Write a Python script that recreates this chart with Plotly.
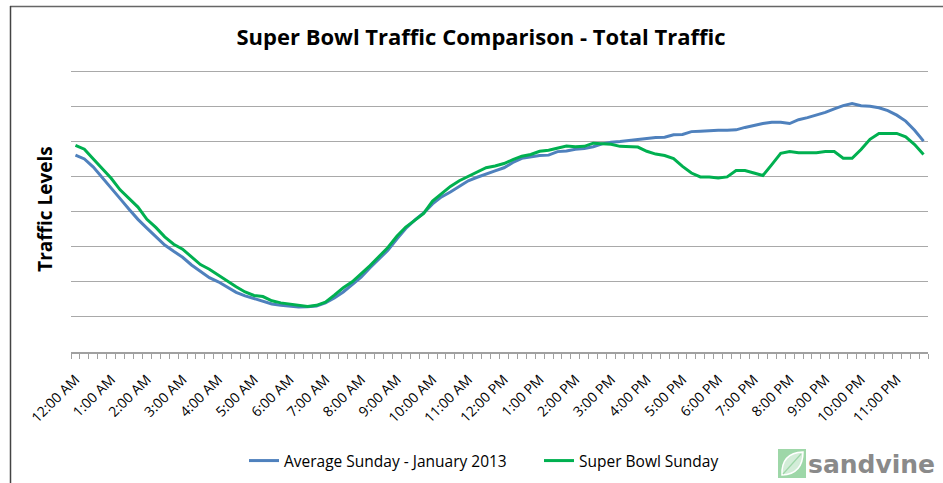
import plotly.graph_objects as go

# 15-minute slots across the day (96 slots), labels on every hour
hour_labels = ["12:00 AM", "1:00 AM", "2:00 AM", "3:00 AM", "4:00 AM", "5:00 AM",
               "6:00 AM", "7:00 AM", "8:00 AM", "9:00 AM", "10:00 AM", "11:00 AM",
               "12:00 PM", "1:00 PM", "2:00 PM", "3:00 PM", "4:00 PM", "5:00 PM",
               "6:00 PM", "7:00 PM", "8:00 PM", "9:00 PM", "10:00 PM", "11:00 PM"]

avg_sunday = [5.61, 5.50, 5.27, 4.96, 4.67, 4.37, 4.07, 3.78, 3.53, 3.28, 3.05, 2.87,
              2.70, 2.48, 2.30, 2.12, 2.00, 1.84, 1.70, 1.60, 1.52, 1.44, 1.37, 1.33,
              1.30, 1.28, 1.29, 1.31, 1.40, 1.54, 1.71, 1.93, 2.13, 2.40, 2.66, 2.90,
              3.22, 3.52, 3.76, 3.96, 4.22, 4.42, 4.56, 4.73, 4.88, 4.98, 5.06, 5.16,
              5.25, 5.40, 5.52, 5.57, 5.60, 5.61, 5.71, 5.73, 5.78, 5.80, 5.85, 5.93,
              5.98, 6.00, 6.03, 6.07, 6.10, 6.11, 6.12, 6.19, 6.20, 6.28, 6.29, 6.31,
              6.32, 6.32, 6.33, 6.40, 6.46, 6.51, 6.55, 6.55, 6.51, 6.62, 6.68, 6.75,
              6.83, 6.93, 7.02, 7.08, 7.02, 7.00, 6.96, 6.88, 6.75, 6.58, 6.32, 6.01]

super_bowl = [5.89, 5.78, 5.50, 5.23, 4.95, 4.62, 4.38, 4.13, 3.78, 3.55, 3.28, 3.07,
              2.93, 2.71, 2.49, 2.36, 2.19, 2.04, 1.86, 1.71, 1.61, 1.58, 1.46, 1.40,
              1.36, 1.32, 1.30, 1.33, 1.42, 1.62, 1.83, 2.00, 2.23, 2.46, 2.72, 2.98,
              3.30, 3.56, 3.75, 3.95, 4.30, 4.50, 4.72, 4.88, 5.01, 5.13, 5.25, 5.30,
              5.37, 5.48, 5.58, 5.63, 5.72, 5.75, 5.82, 5.87, 5.85, 5.86, 5.95, 5.94,
              5.92, 5.86, 5.84, 5.84, 5.72, 5.64, 5.60, 5.51, 5.29, 5.10, 4.99, 4.99,
              4.96, 4.99, 5.17, 5.17, 5.10, 5.03, 5.34, 5.66, 5.71, 5.68, 5.68, 5.68,
              5.71, 5.71, 5.52, 5.52, 5.77, 6.06, 6.23, 6.23, 6.23, 6.13, 5.91, 5.63]

series_names = ["Average Sunday - January 2013", "Super Bowl Sunday"]
series_colors = ["#4F81BD", "#00B050"]

slots = list(range(len(avg_sunday)))
hour_ticks = slots[::4]

W, H = 943, 483
ML, MR, MT, MB = 71, 15, 66, 131
PW, PH = W - ML - MR, H - MT - MB
FONT = "Open Sans"


def fx(px):
    return (px - ML) / PW


def fy(py):
    return (H - MB - py) / PH


fig = go.Figure()
for k, (name, vals, col) in enumerate(zip(series_names, [avg_sunday, super_bowl],
                                          series_colors)):
    fig.add_trace(go.Scatter(x=slots, y=vals, mode="lines", name=name,
                             showlegend=True,
                             legend="legend" if k == 0 else "legend2",
                             line=dict(color=col, width=3)))

shapes = [
    # outer frame (top and left edges)
    dict(type="line", xref="paper", yref="paper", x0=fx(10), x1=fx(W + 5),
         y0=fy(6.5), y1=fy(6.5), line=dict(color="#666666", width=1.5)),
    dict(type="line", xref="paper", yref="paper", x0=fx(10.5), x1=fx(10.5),
         y0=fy(6), y1=fy(H + 5), line=dict(color="#444444", width=1.5)),
    # logo square
    dict(type="rect", xref="paper", yref="paper", x0=fx(778), x1=fx(806),
         y0=fy(478), y1=fy(449), fillcolor="#9ed7a8", line=dict(width=0)),
    # leaf
    dict(type="path", xref="paper", yref="paper",
         path=(f"M {fx(782)},{fy(475)} Q {fx(781)},{fy(453)} {fx(803)},{fy(452)} "
               f"Q {fx(803)},{fy(474)} {fx(782)},{fy(475)} Z"),
         fillcolor="rgba(255,255,255,0.55)", line=dict(color="white", width=1.5)),
    dict(type="line", xref="paper", yref="paper", x0=fx(783), x1=fx(801),
         y0=fy(474), y1=fy(454), line=dict(color="#9ed7a8", width=1.2)),
]

legend_common = dict(orientation="h", xanchor="left", xref="container",
                     y=1 - 461 / H, yref="container", yanchor="middle",
                     font=dict(size=15.5, family=FONT, color="#000000"),
                     bgcolor="rgba(0,0,0,0)")

fig.update_layout(
    width=W, height=H,
    showlegend=True,
    margin=dict(l=ML, r=MR, t=MT, b=MB, autoexpand=False),
    paper_bgcolor="white", plot_bgcolor="white",
    font=dict(family=FONT, color="#000000"),
    title=dict(text="<b>Super Bowl Traffic Comparison - Total Traffic</b>",
               x=(481 / W), xanchor="center", y=1 - 37 / H, yanchor="middle",
               font=dict(size=22, family=FONT, color="#000000")),
    xaxis=dict(range=[-0.5, len(slots) - 0.5], tickmode="array",
               tickvals=hour_ticks, ticktext=hour_labels, tickangle=-45,
               ticks="", showgrid=False, zeroline=False, automargin=False,
               showline=True, linecolor="#a0a0a0", linewidth=1.5,
               ticklabelstandoff=12,
               tickfont=dict(size=14, family=FONT, color="#000000"),
               minor=dict(tick0=-0.5, dtick=1, ticks="outside", ticklen=5,
                          tickcolor="#a0a0a0", tickwidth=1, showgrid=False)),
    yaxis=dict(range=[0, 8.15], dtick=1, showticklabels=False, ticks="",
               showgrid=True, gridcolor="#a9a9a9", gridwidth=1.3,
               zeroline=False, showline=False, automargin=False,
               title=dict(text="<b>Traffic Levels</b>", standoff=12,
                          font=dict(size=19, family=FONT, color="#000000"))),
    legend=dict(x=244 / W, **legend_common),
    legend2=dict(x=539 / W, **legend_common),
    shapes=shapes,
    annotations=[dict(text="<b>sandvine</b>", xref="paper", yref="paper",
                      x=fx(806), y=fy(464), xanchor="left", yanchor="middle",
                      showarrow=False,
                      font=dict(size=25, family="DejaVu Sans", color="#8a8a8a"))],
)

fig.write_html("out.html")
